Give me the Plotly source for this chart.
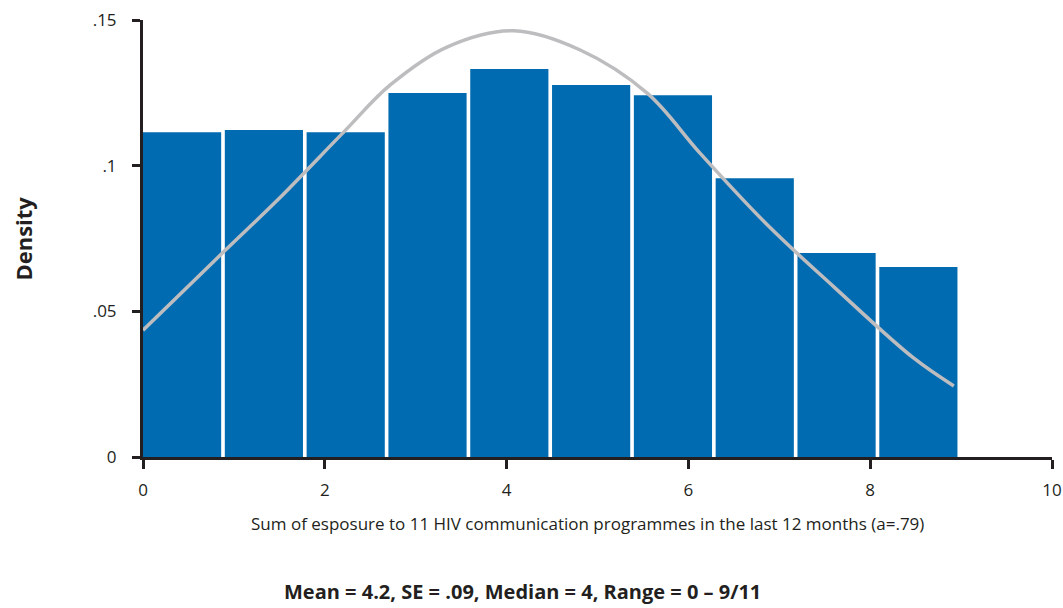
import plotly.graph_objects as go

# Histogram bins (left edges) and densities
bin_left = [0.0, 0.9, 1.8, 2.7, 3.6, 4.5, 5.4, 6.3, 7.2, 8.1]
density = [0.1115, 0.1122, 0.1115, 0.1249, 0.1332, 0.1277, 0.1242, 0.0957, 0.0700, 0.0652]

# Overlaid normal density curve
curve_x = [0.0, 0.89, 1.48, 2.21, 2.72, 3.35, 4.08, 4.81, 5.55, 6.13, 6.87, 7.60, 8.48, 8.92]
curve_y = [0.0435, 0.0705, 0.0882, 0.1116, 0.1277, 0.1408, 0.1463, 0.1397, 0.1248, 0.1042,
           0.0796, 0.0584, 0.0339, 0.0244]

x_ticks = [0, 2, 4, 6, 8, 10]
y_ticks = [0, 0.05, 0.10, 0.15]
y_tick_text = ["0", ".05", ".1", ".15"]

BAR_BLUE = "#006BB0"
CURVE_GREY = "#BDBDC0"
AXIS_DARK = "#231F20"
FONT = "Open Sans"

fig = go.Figure()
fig.add_trace(go.Bar(
    x=bin_left, y=density, width=0.86, offset=0,
    marker=dict(color=BAR_BLUE, line=dict(width=0)),
    hoverinfo="skip",
))
fig.add_trace(go.Scatter(
    x=curve_x, y=curve_y, mode="lines",
    line=dict(color=CURVE_GREY, width=3.5, shape="spline", smoothing=1.0),
    hoverinfo="skip",
))

fig.update_layout(
    width=1063, height=608,
    margin=dict(l=143, r=11, t=20, b=151, autoexpand=False),
    paper_bgcolor="white", plot_bgcolor="white",
    showlegend=False,
    font=dict(family=FONT, color=AXIS_DARK, size=17),
    xaxis=dict(
        range=[0, 10], tickvals=x_ticks, ticks="outside", ticklen=9, tickwidth=3,
        tickcolor=AXIS_DARK, showline=True, linewidth=3, linecolor=AXIS_DARK,
        showgrid=False, zeroline=False, tickfont=dict(size=17), ticklabelstandoff=7,
        automargin=False,
    ),
    yaxis=dict(
        range=[0, 0.15], tickvals=y_ticks, ticktext=y_tick_text, ticks="outside",
        ticklen=8, tickwidth=3, tickcolor=AXIS_DARK, showline=True, linewidth=3,
        linecolor=AXIS_DARK, showgrid=False, zeroline=False, tickfont=dict(size=17),
        ticklabelstandoff=12, automargin=False,
    ),
    annotations=[
        dict(text="Sum of esposure to 11 HIV communication programmes in the last 12 months (a=.79)",
             xref="paper", yref="paper", x=0.489, y=-0.153, xanchor="center", yanchor="middle",
             showarrow=False, font=dict(size=17, family=FONT, color=AXIS_DARK)),
        dict(text="<b>Mean = 4.2, SE = .09, Median = 4, Range = 0 – 9/11</b>",
             xref="paper", yref="paper", x=0.418, y=-0.308, xanchor="center", yanchor="middle",
             showarrow=False, font=dict(size=20, family=FONT, color=AXIS_DARK)),
        dict(text="<b>Density</b>", textangle=-90,
             xref="paper", yref="paper", x=-0.133, y=0.5, xanchor="center", yanchor="middle",
             showarrow=False, font=dict(size=22, family=FONT, color=AXIS_DARK)),
    ],
)

fig.write_html("out.html", config={"displayModeBar": False})
